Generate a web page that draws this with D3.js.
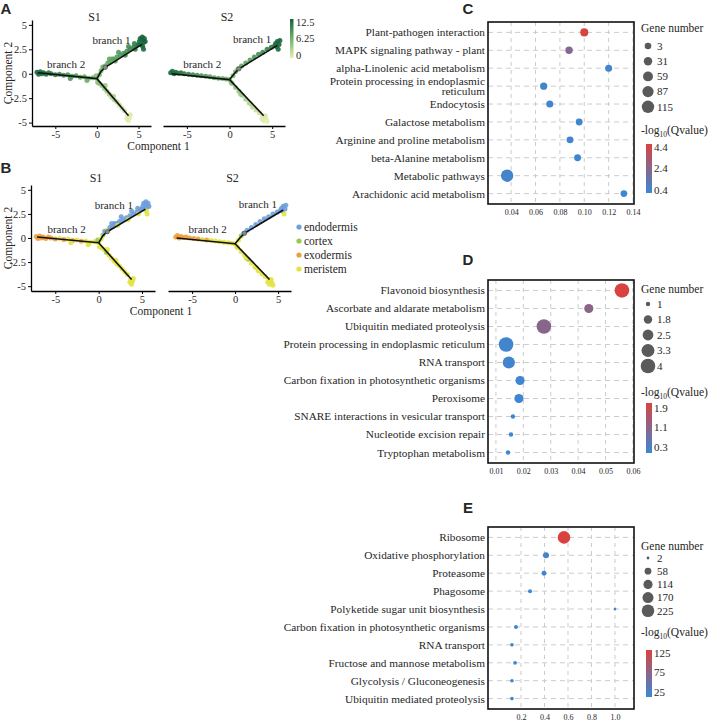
<!DOCTYPE html>
<html>
<head>
<meta charset="utf-8">
<script src="https://cdn.jsdelivr.net/npm/d3@7"></script>
<style>
  body { margin: 0; background: #fff; }
  svg text { fill: #262626; }
</style>
</head>
<body>
<svg id="fig" width="709" height="721"></svg>
<script>
const serif = '"Liberation Serif", "Times New Roman", serif';
const sans = '"Liberation Sans", Arial, sans-serif';

// ---------- A / B : cell trajectories ----------
const samples = ["S1", "S2"];
const cellTypes = ["endodermis", "cortex", "exodermis", "meristem"];
const pseudoBreaks = [12.5, 6.25, 0];
const compTicksY = [-5, -2.5, 0, 2.5, 5];
const compTicksX = [-5, 0, 5];

// cells: component 1, component 2, pseudotime, cell type index
const cellsS1 = [
  [-7.2, 0.15, 12.4, 2], [-7.0, -0.05, 12.3, 2], [-6.8, 0.2, 12.1, 2], [-6.6, 0.0, 11.9, 2],
  [-6.4, 0.1, 11.7, 2], [-6.1, -0.05, 11.4, 2], [-5.8, 0.1, 11.1, 2], [-5.5, 0.0, 10.8, 2],
  [-5.0, -0.1, 10.3, 2], [-4.5, -0.05, 9.8, 3], [-4.0, -0.15, 9.3, 2], [-3.5, -0.1, 8.8, 3],
  [-3.0, -0.25, 8.3, 2], [-2.5, -0.2, 7.8, 3], [-2.0, -0.35, 7.3, 2], [-1.5, -0.3, 6.8, 3],
  [-1.0, -0.45, 6.3, 3], [-0.5, -0.4, 5.8, 3], [-3.2, -0.5, 8.5, 3], [-1.2, -0.7, 6.5, 3],
  [0.0, -0.5, 5.2, 3], [0.1, -0.9, 4.8, 3], [-0.1, -0.2, 5.3, 1],
  [0.3, -0.1, 5.6, 3], [0.5, 0.3, 6.0, 1], [0.7, 0.7, 6.3, 0], [1.0, 0.8, 6.6, 3],
  [1.3, 1.1, 6.9, 0], [1.6, 1.2, 7.2, 0], [1.8, 1.5, 7.4, 0], [2.0, 1.5, 7.6, 0],
  [2.4, 1.7, 8.0, 0], [2.8, 1.9, 8.4, 0], [3.2, 2.1, 8.8, 0], [3.6, 2.3, 9.2, 0],
  [4.0, 2.5, 9.7, 0], [4.4, 2.7, 10.2, 0], [4.8, 2.9, 10.8, 0], [2.2, 1.3, 7.8, 3],
  [3.4, 1.9, 9.0, 3], [4.6, 2.5, 10.5, 3], [1.5, 1.5, 7.1, 0], [2.6, 2.2, 8.2, 0],
  [3.8, 2.8, 9.5, 0], [4.5, 3.1, 10.4, 0],
  [5.1, 3.3, 11.8, 0], [5.4, 3.5, 12.2, 0], [5.6, 3.2, 12.4, 0], [5.3, 3.0, 12.0, 0],
  [5.5, 2.8, 12.3, 3], [5.7, 3.6, 12.5, 0], [5.0, 3.0, 11.5, 0], [5.6, 2.5, 12.0, 3],
  [5.2, 3.6, 12.1, 0], [5.8, 3.3, 12.5, 0], [5.45, 3.75, 12.4, 0],
  [0.3, -1.0, 4.5, 3], [0.6, -1.2, 4.2, 3], [0.9, -1.5, 3.9, 1], [1.2, -1.8, 3.6, 3],
  [1.5, -2.1, 3.3, 3], [1.8, -2.4, 3.0, 3], [2.1, -2.7, 2.6, 3], [2.4, -2.9, 2.3, 3],
  [2.7, -3.2, 2.0, 3], [3.0, -3.5, 1.6, 3], [3.3, -3.8, 1.2, 3], [1.0, -1.2, 3.8, 3],
  [2.0, -2.3, 2.8, 3],
  [3.7, -4.3, 0.6, 3], [3.9, -4.5, 0.3, 3], [3.8, -4.8, 0.1, 3], [4.0, -4.2, 0.5, 3],
  [3.6, -4.6, 0.2, 3]
];
const cellsS2 = [
  [-6.9, 0.1, 12.3, 2], [-6.7, 0.25, 12.1, 2], [-6.5, 0.0, 11.9, 2], [-6.3, 0.15, 11.7, 2],
  [-6.0, 0.05, 11.4, 2], [-5.7, 0.1, 11.1, 2], [-5.3, 0.0, 10.7, 2], [-4.8, -0.05, 10.2, 2],
  [-4.3, -0.1, 9.7, 2], [-3.8, -0.15, 9.2, 3], [-3.3, -0.2, 8.7, 2], [-2.8, -0.25, 8.2, 3],
  [-2.3, -0.3, 7.7, 3], [-1.8, -0.4, 7.2, 3], [-1.3, -0.45, 6.7, 3], [-0.8, -0.5, 6.2, 3],
  [-0.4, -0.55, 5.8, 3], [0.0, -0.6, 5.3, 3], [0.2, -0.9, 5.0, 3],
  [0.4, -0.2, 5.7, 3], [0.7, 0.2, 6.1, 1], [1.0, 0.5, 6.5, 0], [1.4, 0.8, 7.0, 0],
  [1.9, 1.1, 7.5, 0], [2.4, 1.4, 8.0, 0], [2.9, 1.7, 8.6, 0], [3.4, 2.0, 9.2, 0],
  [3.9, 2.2, 9.8, 0], [4.4, 2.5, 10.4, 0], [4.9, 2.7, 11.0, 0],
  [5.4, 3.1, 11.8, 0], [5.6, 3.3, 12.2, 0], [5.8, 3.0, 12.4, 0], [5.5, 2.8, 12.0, 0],
  [5.9, 3.4, 12.5, 0], [5.7, 2.5, 12.1, 3], [5.3, 2.9, 11.6, 0],
  [0.3, -1.0, 4.8, 3], [0.7, -1.4, 4.4, 3], [1.1, -1.8, 4.0, 3], [1.5, -2.2, 3.6, 1],
  [1.9, -2.6, 3.2, 3], [2.3, -3.0, 2.7, 3], [2.7, -3.4, 2.2, 3], [3.1, -3.7, 1.7, 3],
  [3.5, -4.0, 1.2, 3], [1.3, -2.1, 3.8, 3], [2.5, -3.1, 2.5, 3],
  [3.9, -4.3, 0.7, 3], [4.1, -4.5, 0.4, 3], [4.3, -4.7, 0.2, 3], [4.0, -4.8, 0.1, 3],
  [4.2, -4.3, 0.5, 3], [3.8, -4.6, 0.3, 3], [4.4, -4.9, 0.0, 3]
];
// principal graph edges
const treeS1 = [
  [[-7.1, 0.1], [0, -0.5]],
  [[0, -0.5], [0.5, 0.25], [1.0, 0.65], [5.4, 3.0]],
  [[0, -0.5], [3.8, -4.3]]
];
const treeS2 = [
  [[-6.8, 0.0], [0, -0.6]],
  [[0, -0.6], [0.6, 0.05], [1.1, 0.5], [5.6, 2.9]],
  [[0, -0.6], [4.0, -4.3]]
];
const branchPoints = [[1.0, 0.65], [1.1, 0.5]];
const branchLabels = [
  [["branch 1", 1.75, 3.45], ["branch 2", -3.7, 0.95]],
  [["branch 1", 2.65, 3.55], ["branch 2", -3.2, 0.95]]
];

// ---------- C / D / E : KEGG enrichment ----------
const pathwaysC = ["Plant-pathogen interaction", "MAPK signaling pathway - plant", "alpha-Linolenic acid metabolism",
  "Protein processing in endoplasmic\nreticulum", "Endocytosis", "Galactose metabolism",
  "Arginine and proline metabolism", "beta-Alanine metabolism", "Metabolic pathways", "Arachidonic acid metabolism"];
const richC = [0.100, 0.0875, 0.120, 0.0667, 0.0717, 0.0958, 0.0883, 0.0945, 0.0367, 0.1325];
const genesC = [25, 14, 9, 12, 9, 7, 8, 7, 115, 4];
const qvalC = [4.7, 2.2, 0.35, 0.4, 0.3, 0.25, 0.3, 0.25, 0.4, 0.2];
const ticksC = [0.04, 0.06, 0.08, 0.10, 0.12, 0.14];
const sizeBreaksC = [3, 31, 59, 87, 115];
const qBreaksC = [4.4, 2.4, 0.4];

const pathwaysD = ["Flavonoid biosynthesis", "Ascorbate and aldarate metabolism", "Ubiquitin mediated proteolysis",
  "Protein processing in endoplasmic reticulum", "RNA transport", "Carbon fixation in photosynthetic organisms",
  "Peroxisome", "SNARE interactions in vesicular transport", "Nucleotide excision repair", "Tryptophan metabolism"];
const richD = [0.056, 0.0439, 0.0275, 0.0137, 0.0147, 0.0188, 0.0184, 0.0162, 0.0155, 0.0144];
const genesD = [4, 2, 4, 4, 3, 2, 2, 1, 1, 1];
const qvalD = [2.1, 1.1, 1.05, 0.15, 0.15, 0.1, 0.1, 0.08, 0.08, 0.08];
const ticksD = [0.01, 0.02, 0.03, 0.04, 0.05, 0.06];
const sizeBreaksD = [1, 1.8, 2.5, 3.3, 4];
const qBreaksD = [1.9, 1.1, 0.3];

const pathwaysE = ["Ribosome", "Oxidative phosphorylation", "Proteasome", "Phagosome",
  "Polyketide sugar unit biosynthesis", "Carbon fixation in photosynthetic organisms", "RNA transport",
  "Fructose and mannose metabolism", "Glycolysis / Gluconeogenesis", "Ubiquitin mediated proteolysis"];
const richE = [0.566, 0.413, 0.396, 0.277, 1.0, 0.157, 0.123, 0.149, 0.123, 0.123];
const genesE = [225, 44, 27, 14, 2, 14, 10, 11, 10, 10];
const qvalE = [133, 20, 18, 14, 12.5, 13, 13, 12.5, 12.5, 12.5];
const ticksE = [0.2, 0.4, 0.6, 0.8, 1.0];
const sizeBreaksE = [2, 58, 114, 170, 225];
const qBreaksE = [125, 75, 25];

// ---------- styles ----------
const typeColors = ["#6e9fda", "#97c94b", "#eba03c", "#e3e344"];
const pseudoColor = d3.scaleLinear().domain([0, 6.25, 12.5]).range(["#e4eeb0", "#6fb26a", "#16643b"]);
const lowCol = "#3a88d5", highCol = "#d9433f";
const gridCol = "#cccccc";

const svg = d3.select("#fig");
const defs = svg.append("defs");

function panelLetter(t, x, y) {
  svg.append("text").text(t).attr("x", x).attr("y", y)
    .attr("font-family", sans).attr("font-weight", "bold").attr("font-size", 15)
    .attr("text-anchor", "middle").attr("fill", "#111");
}

function trajPanel(p) {
  const g = svg.append("g");
  const y = d3.scaleLinear().domain(p.yDomain).range(p.yRange);
  const cellSets = [cellsS1, cellsS2];
  const trees = [treeS1, treeS2];

  p.facets.forEach((range, i) => {
    const x = d3.scaleLinear().domain([-7.8, 6.5]).range(range);
    const fg = g.append("g");

    // x axis
    fg.append("g").attr("transform", `translate(0,${p.yRange[0]})`)
      .call(d3.axisBottom(x).tickValues(compTicksX).tickSize(3).tickSizeOuter(0).tickPadding(2).tickFormat(d => d))
      .call(a => a.selectAll("text").attr("font-family", serif).attr("font-size", 10.5).attr("fill", "#262626"))
      .call(a => a.select(".domain").attr("stroke-width", 1.3));
    if (i === 0) {
      fg.append("g").attr("transform", `translate(${range[0]},0)`)
        .call(d3.axisLeft(y).tickValues(compTicksY).tickSize(3).tickSizeOuter(0).tickPadding(2).tickFormat(d => d))
        .call(a => a.selectAll("text").attr("font-family", serif).attr("font-size", 10.5).attr("fill", "#262626"))
        .call(a => a.select(".domain").attr("stroke-width", 1.3));
    }

    // cells
    fg.selectAll("circle.cell").data(cellSets[i]).join("circle")
      .attr("class", "cell")
      .attr("cx", d => x(d[0])).attr("cy", d => y(d[1])).attr("r", 2.5)
      .attr("fill", d => p.color(d)).attr("fill-opacity", 0.9);

    // trajectory
    const line = d3.line().x(d => x(d[0])).y(d => y(d[1]));
    fg.selectAll("path.edge").data(trees[i]).join("path")
      .attr("class", "edge").attr("d", line)
      .attr("fill", "none").attr("stroke", "#111").attr("stroke-width", 1.6);
    fg.append("circle").attr("cx", x(branchPoints[i][0])).attr("cy", y(branchPoints[i][1]))
      .attr("r", 2.2).attr("fill", "#8a8a8a").attr("stroke", "#333").attr("stroke-width", 0.5);

    // labels
    fg.selectAll("text.blab").data(branchLabels[i]).join("text")
      .attr("class", "blab")
      .attr("x", d => x(d[1])).attr("y", d => y(d[2])).attr("dy", "0.35em")
      .attr("text-anchor", "middle").attr("font-family", serif).attr("font-size", 11)
      .text(d => d[0]);
    fg.append("text").text(samples[i])
      .attr("x", (range[0] + range[1]) / 2 + 3).attr("y", p.stripY)
      .attr("text-anchor", "middle").attr("font-family", serif).attr("font-size", 12);
  });

  g.append("text").text("Component 1")
    .attr("x", (p.facets[0][0] + p.facets[1][1]) / 2).attr("y", p.yRange[0] + 24)
    .attr("text-anchor", "middle").attr("font-family", serif).attr("font-size", 11.5);
  g.append("text").text("Component 2")
    .attr("transform", `translate(12,${(p.yRange[0] + p.yRange[1]) / 2}) rotate(-90)`)
    .attr("text-anchor", "middle").attr("font-family", serif).attr("font-size", 11.5);
}

// ---- A
trajPanel({
  yDomain: [-5.35, 5.5], yRange: [126, 20], stripY: 21,
  facets: [[32, 151], [163, 285]],
  color: d => pseudoColor(d[2])
});
panelLetter("A", 6, 14);

// pseudotime colour bar
(function () {
  const grad = defs.append("linearGradient").attr("id", "gradA")
    .attr("x1", 0).attr("y1", 1).attr("x2", 0).attr("y2", 0);
  d3.range(0, 1.0001, 0.1).forEach(t => grad.append("stop").attr("offset", t).attr("stop-color", pseudoColor(t * 12.5)));
  const by = d3.scaleLinear().domain([0, 12.5]).range([55, 22]);
  svg.append("rect").attr("x", 290).attr("y", 19).attr("width", 3.5).attr("height", 39).attr("fill", "url(#gradA)");
  svg.append("g").selectAll("text").data(pseudoBreaks).join("text")
    .attr("x", 296).attr("y", d => by(d)).attr("dy", "0.35em")
    .attr("font-family", serif).attr("font-size", 10.5).text(d => d);
})();

// ---- B
trajPanel({
  yDomain: [-5.5, 5.5], yRange: [291, 185], stripY: 182,
  facets: [[31, 155], [168, 291]],
  color: d => typeColors[d[3]]
});
panelLetter("B", 6, 173);

svg.append("g").selectAll("g").data(cellTypes).join("g")
  .attr("transform", (d, i) => `translate(299,${227 + i * 14})`)
  .call(s => s.append("circle").attr("r", 2.6).attr("fill", (d, i) => typeColors[i]))
  .call(s => s.append("text").attr("x", 5).attr("dy", "0.35em")
    .attr("font-family", serif).attr("font-size", 11.5).text(d => d));

// ---------- dot plots ----------
const boxL = 488, boxR = 634;

function dotPanel(p) {
  const g = svg.append("g");
  const x = d3.scaleLinear().domain(p.xDomain).range([boxL, boxR]);
  const y = d3.scalePoint().domain(p.names).range([p.top, p.bottom]).padding(0.58);
  const r2 = d3.scaleLinear().domain(d3.extent(p.sizeBreaks)).range(p.rRange.map(v => v * v));
  const col = d3.scaleLinear().domain(p.qDomain).range([lowCol, highCol]).interpolate(d3.interpolateRgb);
  const rows = p.names.map((n, i) => ({ name: n, rich: p.rich[i], genes: p.genes[i], q: p.q[i] }));

  // dashed grid
  g.append("g").selectAll("line").data(p.ticks).join("line")
    .attr("x1", d => x(d)).attr("x2", d => x(d)).attr("y1", p.top).attr("y2", p.bottom)
    .attr("stroke", gridCol).attr("stroke-width", 1).attr("stroke-dasharray", "4,4");
  g.append("g").selectAll("line").data(p.names).join("line")
    .attr("x1", boxL).attr("x2", boxR).attr("y1", d => y(d)).attr("y2", d => y(d))
    .attr("stroke", gridCol).attr("stroke-width", 1).attr("stroke-dasharray", "5,4");

  g.append("g").selectAll("circle").data(rows).join("circle")
    .attr("cx", d => x(d.rich)).attr("cy", d => y(d.name))
    .attr("r", d => Math.sqrt(r2(d.genes))).attr("fill", d => col(d.q));

  g.append("rect").attr("x", boxL).attr("y", p.top).attr("width", boxR - boxL).attr("height", p.bottom - p.top)
    .attr("fill", "none").attr("stroke", "#111").attr("stroke-width", 1.6);

  // axes text
  g.append("g").attr("transform", `translate(0,${p.bottom})`)
    .call(d3.axisBottom(x).tickValues(p.ticks).tickSize(0).tickPadding(5).tickFormat(p.fmt))
    .call(a => a.select(".domain").remove())
    .call(a => a.selectAll("text").attr("font-family", serif).attr("font-size", 8).attr("fill", "#333"));

  const lab = g.append("g").selectAll("text").data(p.names).join("text")
    .attr("x", boxL - 3).attr("y", d => y(d)).attr("text-anchor", "end")
    .attr("font-family", serif).attr("font-size", 11.3);
  lab.each(function (d) {
    const lines = d.split("\n");
    lines.forEach((t, k) => d3.select(this).append("tspan")
      .attr("x", boxL - 3)
      .attr("dy", k === 0 ? (0.35 - (lines.length - 1) * 0.42) + "em" : "0.84em")
      .text(t));
  });

  // legend: gene number
  const L = p.legend;
  g.append("text").text("Gene number").attr("x", 641).attr("y", L.titleY)
    .attr("font-family", serif).attr("font-size", 11.5);
  const items = g.append("g").selectAll("g").data(p.sizeBreaks).join("g")
    .attr("transform", (d, i) => `translate(648,${L.itemY + i * L.itemStep})`);
  items.append("circle").attr("r", d => Math.sqrt(r2(d))).attr("fill", "#5a5a5a");
  items.append("text").attr("x", 9).attr("dy", "0.35em")
    .attr("font-family", serif).attr("font-size", 11).text(d => d);

  // legend: -log10(Qvalue)
  const qt = g.append("text").attr("x", 641).attr("y", L.qTitleY).attr("font-family", serif).attr("font-size", 11.5);
  qt.append("tspan").text("-log");
  qt.append("tspan").text("10").attr("font-size", 7.5).attr("dy", 2.5);
  qt.append("tspan").text("(Qvalue)").attr("dy", -2.5);

  const gid = "grad" + p.id;
  const grad = defs.append("linearGradient").attr("id", gid).attr("x1", 0).attr("y1", 1).attr("x2", 0).attr("y2", 0);
  d3.range(0, 1.0001, 0.1).forEach(t => grad.append("stop").attr("offset", t)
    .attr("stop-color", col(p.qDomain[0] + t * (p.qDomain[1] - p.qDomain[0]))));
  const by = d3.scaleLinear().domain(p.qDomain).range([L.barBottom, L.barTop]);
  g.append("rect").attr("x", 646).attr("y", L.barTop).attr("width", 6).attr("height", L.barBottom - L.barTop)
    .attr("fill", `url(#${gid})`);
  g.append("g").selectAll("text").data(p.qBreaks).join("text")
    .attr("x", 654).attr("y", d => by(d)).attr("dy", "0.35em")
    .attr("font-family", serif).attr("font-size", 11).text(d => d);
}

dotPanel({
  id: "C", names: pathwaysC, rich: richC, genes: genesC, q: qvalC,
  xDomain: [0.021, 0.1408], ticks: ticksC, fmt: d3.format(".2f"),
  top: 22, bottom: 204, rRange: [3.3, 6.2], sizeBreaks: sizeBreaksC,
  qDomain: [0.1, 4.7], qBreaks: qBreaksC,
  legend: { titleY: 32, itemY: 46, itemStep: 15.2, qTitleY: 134, barTop: 144, barBottom: 193 }
});
panelLetter("C", 468, 14);

dotPanel({
  id: "D", names: pathwaysD, rich: richD, genes: genesD, q: qvalD,
  xDomain: [0.0071, 0.0604], ticks: ticksD, fmt: d3.format(".2f"),
  top: 280, bottom: 463, rRange: [2.2, 7.3], sizeBreaks: sizeBreaksD,
  qDomain: [0.05, 2.1], qBreaks: qBreaksD,
  legend: { titleY: 293, itemY: 304, itemStep: 15.5, qTitleY: 396, barTop: 403, barBottom: 453 }
});
panelLetter("D", 468, 265);

dotPanel({
  id: "E", names: pathwaysE, rich: richE, genes: genesE, q: qvalE,
  xDomain: [-0.081, 1.162], ticks: ticksE, fmt: d3.format(".1f"),
  top: 527, bottom: 709, rRange: [1.4, 6.3], sizeBreaks: sizeBreaksE,
  qDomain: [12, 133], qBreaks: qBreaksE,
  legend: { titleY: 550, itemY: 558, itemStep: 13.2, qTitleY: 636, barTop: 650, barBottom: 697 }
});
panelLetter("E", 468, 513);
</script>
</body>
</html>
